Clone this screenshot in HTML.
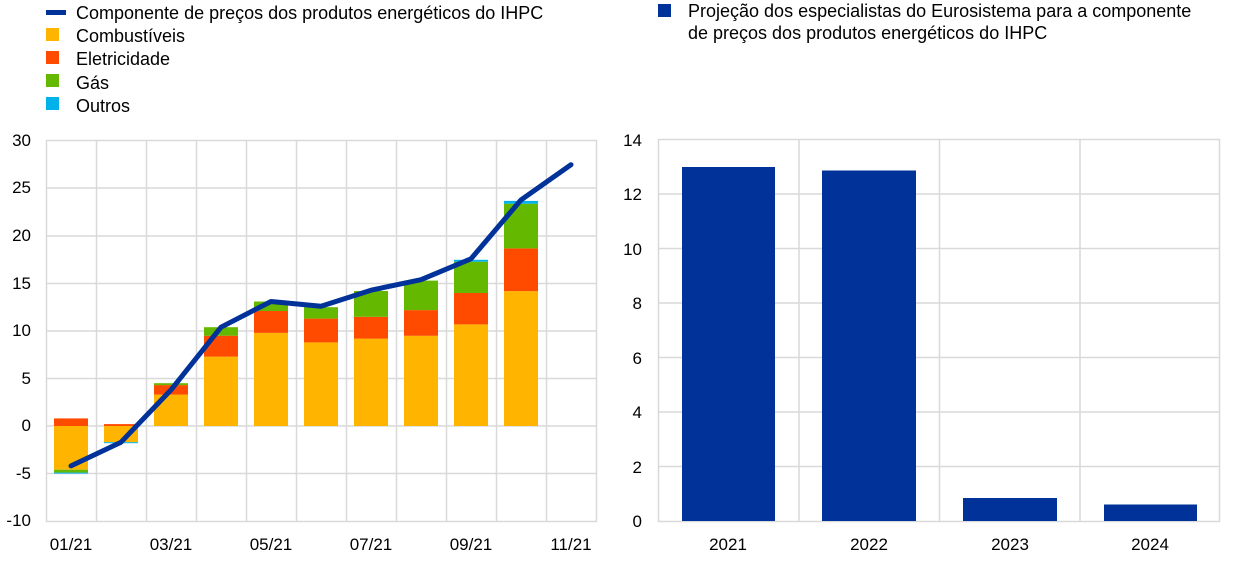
<!DOCTYPE html>
<html><head><meta charset="utf-8"><style>
body{margin:0;background:#fff;width:1240px;height:558px;overflow:hidden}
text{font-family:"Liberation Sans",Arial,sans-serif;font-size:17px;fill:#000}
text.lg{font-size:18px}
</style></head><body>
<svg width="1240" height="558" xmlns="http://www.w3.org/2000/svg">
<!-- legend left -->
<rect x="46" y="10" width="20" height="5" fill="#003299"/>
<text class="lg" x="76" y="19">Componente de preços dos produtos energéticos do IHPC</text>
<rect x="46" y="28" width="13" height="13" fill="#ffb400"/>
<text class="lg" x="76" y="42">Combustíveis</text>
<rect x="46" y="51" width="13" height="13" fill="#ff4b00"/>
<text class="lg" x="76" y="65">Eletricidade</text>
<rect x="46" y="74" width="13" height="13" fill="#65b800"/>
<text class="lg" x="76" y="89">Gás</text>
<rect x="46" y="97" width="13" height="13" fill="#00b1ea"/>
<text class="lg" x="76" y="112">Outros</text>
<!-- legend right -->
<rect x="658" y="4" width="13" height="13" fill="#003299"/>
<text class="lg" x="688" y="17">Projeção dos especialistas do Eurosistema para a componente</text>
<text class="lg" x="688" y="39">de preços dos produtos energéticos do IHPC</text>

<!-- left grid -->
<g stroke="#d9d9d9" stroke-width="1.5" fill="none">
<rect x="46.5" y="140.5" width="550" height="381"/>
<path d="M46.5 188H596M46.5 236H596M46.5 283.5H596M46.5 331H596M46.5 378.5H596M46.5 473.5H596"/>
<path d="M96.5 140V521M146.5 140V521M196.5 140V521M246.5 140V521M296.5 140V521M346.5 140V521M396.5 140V521M446.5 140V521M496.5 140V521M546.5 140V521"/>
<path d="M46.5 426H596"/>
</g>
<g text-anchor="end">
<text x="31" y="146">30</text><text x="31" y="193">25</text><text x="31" y="241">20</text><text x="31" y="289">15</text><text x="31" y="336">10</text><text x="31" y="384">5</text><text x="31" y="431">0</text><text x="31" y="479">-5</text><text x="31" y="526">-10</text>
</g>
<g text-anchor="middle">
<text x="71" y="550">01/21</text><text x="171" y="550">03/21</text><text x="271" y="550">05/21</text><text x="371" y="550">07/21</text><text x="471" y="550">09/21</text><text x="571" y="550">11/21</text>
</g>
<g>
<rect x="54" y="426" width="34" height="43.7" fill="#ffb400"/>
<rect x="54" y="469.7" width="34" height="2.9" fill="#65b800"/>
<rect x="54" y="472.6" width="34" height="1" fill="#00b1ea"/>
<rect x="54" y="418.4" width="34" height="7.6" fill="#ff4b00"/>
<rect x="104" y="426" width="34" height="16.2" fill="#ffb400"/>
<rect x="104" y="442.2" width="34" height="1" fill="#00b1ea"/>
<rect x="104" y="424.1" width="34" height="1.9" fill="#ff4b00"/>
<rect x="154" y="394.6" width="34" height="31.4" fill="#ffb400"/>
<rect x="154" y="385.1" width="34" height="9.5" fill="#ff4b00"/>
<rect x="154" y="383.2" width="34" height="1.9" fill="#65b800"/>
<rect x="204" y="356.6" width="34" height="69.4" fill="#ffb400"/>
<rect x="204" y="335.7" width="34" height="20.9" fill="#ff4b00"/>
<rect x="204" y="327.2" width="34" height="8.5" fill="#65b800"/>
<rect x="254" y="332.9" width="34" height="93.1" fill="#ffb400"/>
<rect x="254" y="311" width="34" height="21.9" fill="#ff4b00"/>
<rect x="254" y="301.5" width="34" height="9.5" fill="#65b800"/>
<rect x="304" y="342.4" width="34" height="83.6" fill="#ffb400"/>
<rect x="304" y="318.6" width="34" height="23.8" fill="#ff4b00"/>
<rect x="304" y="307.2" width="34" height="11.4" fill="#65b800"/>
<rect x="354" y="338.6" width="34" height="87.4" fill="#ffb400"/>
<rect x="354" y="316.8" width="34" height="21.8" fill="#ff4b00"/>
<rect x="354" y="291" width="34" height="25.8" fill="#65b800"/>
<rect x="404" y="335.8" width="34" height="90.2" fill="#ffb400"/>
<rect x="404" y="310.1" width="34" height="25.7" fill="#ff4b00"/>
<rect x="404" y="280.6" width="34" height="29.5" fill="#65b800"/>
<rect x="454" y="324.4" width="34" height="101.6" fill="#ffb400"/>
<rect x="454" y="293" width="34" height="31.4" fill="#ff4b00"/>
<rect x="454" y="261.7" width="34" height="31.3" fill="#65b800"/>
<rect x="454" y="259.8" width="34" height="1.9" fill="#00b1ea"/>
<rect x="504" y="291.1" width="34" height="134.9" fill="#ffb400"/>
<rect x="504" y="248.4" width="34" height="42.7" fill="#ff4b00"/>
<rect x="504" y="203.7" width="34" height="44.7" fill="#65b800"/>
<rect x="504" y="200.9" width="34" height="2.8" fill="#00b1ea"/>
</g>
<polyline fill="none" stroke="#003299" stroke-width="5" stroke-linejoin="round" stroke-linecap="round"
points="71,465.9 121,442.2 171,389.9 221,327.2 271,301.5 321,306.3 371,290.2 421,279.7 471,258.8 521,199.9 571,164.7"/>

<!-- right chart -->
<g stroke="#d9d9d9" stroke-width="1.5" fill="none">
<rect x="658.5" y="139.5" width="561" height="382"/>
<path d="M658 194H1220M658 248.5H1220M658 303H1220M658 357.5H1220M658 412H1220M658 466.5H1220"/>
<path d="M799 139V521M939.5 139V521M1080 139V521"/>
</g>
<g text-anchor="end">
<text x="642" y="146">14</text><text x="642" y="200">12</text><text x="642" y="255">10</text><text x="642" y="309">8</text><text x="642" y="364">6</text><text x="642" y="418">4</text><text x="642" y="473">2</text><text x="642" y="527">0</text>
</g>
<g fill="#003299">
<rect x="682" y="167" width="93" height="354"/>
<rect x="822" y="170.5" width="94" height="350.5"/>
<rect x="963" y="498" width="94" height="23"/>
<rect x="1104" y="504.5" width="93" height="16.5"/>
</g>
<g text-anchor="middle">
<text x="728" y="550">2021</text><text x="869" y="550">2022</text><text x="1010" y="550">2023</text><text x="1150" y="550">2024</text>
</g>
</svg>
</body></html>
